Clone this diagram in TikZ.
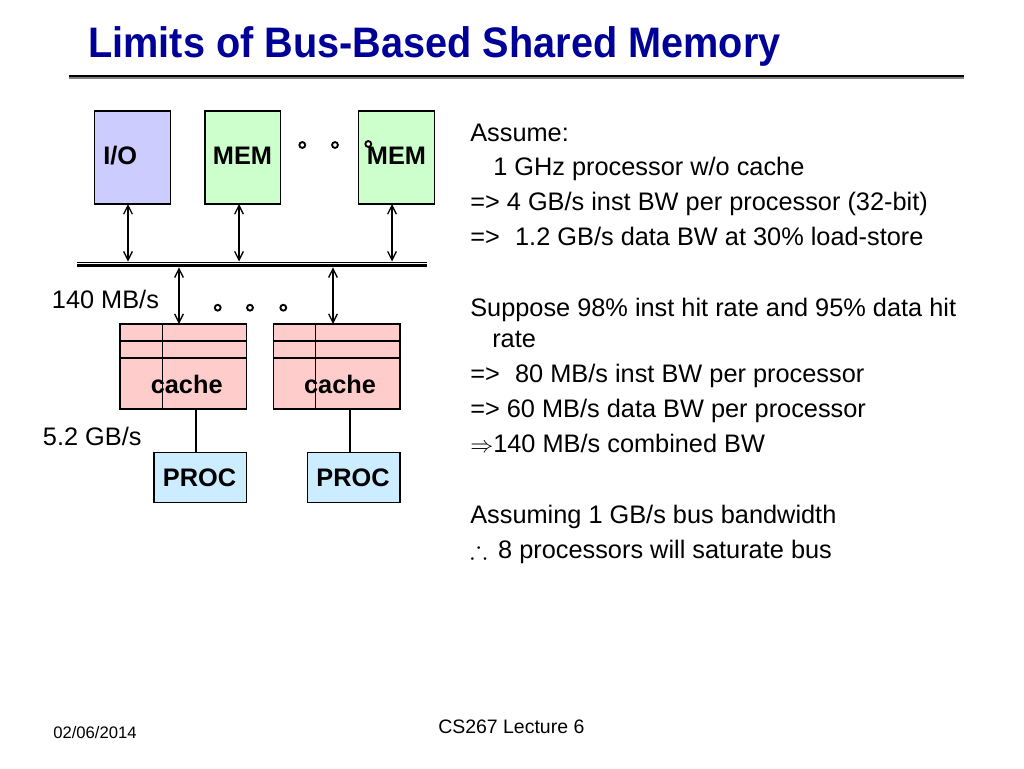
\documentclass[tikz,border=0pt]{standalone}
\usepackage{amssymb}
\usepackage{fontspec}
\setmainfont{Liberation Sans}
\usetikzlibrary{arrows.meta}
\definecolor{titleblue}{RGB}{0,0,153}
\definecolor{iofill}{RGB}{204,204,255}
\definecolor{memfill}{RGB}{204,255,204}
\definecolor{cachefill}{RGB}{255,204,204}
\definecolor{procfill}{RGB}{204,236,255}
\begin{document}
\begin{tikzpicture}[x=0.75pt,y=-0.75pt,
  box/.style={draw=black,line width=0.8pt,inner sep=0pt,outer sep=0pt},
  upbox/.style={box,minimum width=56.8pt,minimum height=69.75pt},
  cachebox/.style={box,fill=cachefill,minimum width=95pt,minimum height=63.75pt},
  procbox/.style={box,fill=procfill,minimum width=69.5pt,minimum height=37.5pt},
  lbl/.style={inner sep=0pt,font=\fontsize{19}{23}\selectfont\bfseries},
  txt/.style={inner sep=0pt,anchor=base west,font=\fontsize{19}{23}\selectfont},
  dotc/.style={draw=black,line width=1.4pt,fill=white,circle,inner sep=0pt,minimum size=4.4pt},
  biarrow/.style={line width=1pt,{Straight Barb[length=6.5pt,width=6.5pt]}-{Straight Barb[length=6.5pt,width=6.5pt]}},
  wire/.style={line width=0.8pt}]
\fill[white] (0,0) rectangle (1024,768);
\useasboundingbox (0,0) rectangle (1024,768);

% title
\node[anchor=base west,inner sep=0pt,text=titleblue,font=\fontsize{32}{36}\selectfont\bfseries] (title) at (88,57.8) {\scalebox{0.93}[1]{Limits of Bus-Based Shared Memory}};
\coordinate (ruleL) at (68.6,76.2);
\coordinate (ruleR) at (964,76.2);
\draw[black,line width=2pt] (ruleL) -- (ruleR);
\draw[gray,line width=1.5pt] ([yshift=-1.7pt]ruleL) -- ([yshift=-1.7pt]ruleR);

% upper boxes
\node[upbox,fill=iofill] (io) at (132.2,157.5) {};
\node[upbox,fill=memfill] (mem1) at (242.85,157.5) {};
\node[upbox,fill=memfill] (mem2) at (396.65,157.5) {};
\node[lbl,anchor=base west] (iot) at (103,164) {I/O};
\node[lbl,anchor=base] (mem1t) at (242.5,164) {MEM};
\node[lbl,anchor=base] (mem2t) at (396.5,164) {MEM};
\node[dotc] (d1) at (302.3,145) {};
\node[dotc] (d2) at (335,145) {};
\node[dotc] (d3) at (368.3,144) {};

% bus
\coordinate (busL) at (77,262.5);
\coordinate (busR) at (427,262.5);
\draw[line width=1.3pt] (busL) -- (busR);
\draw[line width=2.3pt] ([yshift=-2.3pt]busL) -- ([yshift=-2.3pt]busR);

\coordinate (b1) at (128,261.5);
\coordinate (b2) at (239,261.5);
\coordinate (b3) at (392,261.5);
\coordinate (b4) at (179,267.3);
\coordinate (b5) at (333,267.3);
\draw[biarrow] (b1 |- io.south) -- (b1);
\draw[biarrow] (b2 |- mem1.south) -- (b2);
\draw[biarrow] (b3 |- mem2.south) -- (b3);

% caches
\node[cachebox] (c1) at (183.35,366.5) {};
\node[cachebox] (c2) at (336.65,366.5) {};
\foreach \c in {c1,c2}{
  \draw[wire] ([yshift=-12.75pt]\c.north west) -- ([yshift=-12.75pt]\c.north east);
  \draw[wire] ([yshift=-25.5pt]\c.north west) -- ([yshift=-25.5pt]\c.north east);
  \draw[wire] ([xshift=31.8pt]\c.north west) -- ([xshift=31.8pt]\c.south west);
}
\node[lbl,anchor=base] (c1t) at (186.7,393.3) {cache};
\node[lbl,anchor=base] (c2t) at (340,393.3) {cache};
\draw[biarrow] (b4) -- (b4 |- c1.north);
\draw[biarrow] (b5) -- (b5 |- c2.north);

\node[txt] (bw1) at (51.7,308.3) {140 MB/s};
\node[dotc] (d4) at (217.7,307.7) {};
\node[dotc] (d5) at (250,307.7) {};
\node[dotc] (d6) at (283.3,307.7) {};
\node[txt] (bw2) at (42.7,445) {5.2 GB/s};

% procs
\node[procbox] (p1) at (200.35,477.7) {};
\node[procbox] (p2) at (353.65,477.7) {};
\node[lbl,anchor=base] (p1t) at (199.5,486.7) {PROC};
\node[lbl,anchor=base] (p2t) at (353,486.7) {PROC};
\coordinate (l1) at (196,0);
\coordinate (l2) at (350,0);
\draw[wire] (l1 |- c1.south) -- (l1 |- p1.north);
\draw[wire] (l2 |- c2.south) -- (l2 |- p2.north);

% right text
\node[txt] (r1) at (470,141) {Assume:};
\node[txt] (r2) at (493,175) {1 GHz processor w/o cache};
\node[txt] (r3) at (470,210.7) {=> 4 GB/s inst BW per processor (32-bit)};
\node[txt] (r4) at (470,245.7) {=>\hspace{6.2pt} 1.2 GB/s data BW at 30\% load-store};
\node[txt] (r5) at (470,316.7) {Suppose 98\% inst hit rate and 95\% data hit};
\node[txt] (r6) at (492,347) {rate};
\node[txt] (r7) at (470,382.7) {=>\hspace{6.2pt} 80 MB/s inst BW per processor};
\node[txt] (r8) at (470,417) {=> 60 MB/s data BW per processor};
\node[txt] (r9) at (470,452.7) {$\Rightarrow$140 MB/s combined BW};
\node[txt] (r10) at (470,523) {Assuming 1 GB/s bus bandwidth};
\node[txt] (r11) at (470,558) {$\therefore$\hspace{3pt} 8 processors will saturate bus};

% footer
\node[anchor=base west,inner sep=0pt,font=\fontsize{12.5}{14}\selectfont] (date) at (53,738.3) {02/06/2014};
\node[anchor=base west,inner sep=0pt,font=\fontsize{14.6}{17}\selectfont] (foot) at (438,733.3) {CS267 Lecture 6};
\end{tikzpicture}
\end{document}
